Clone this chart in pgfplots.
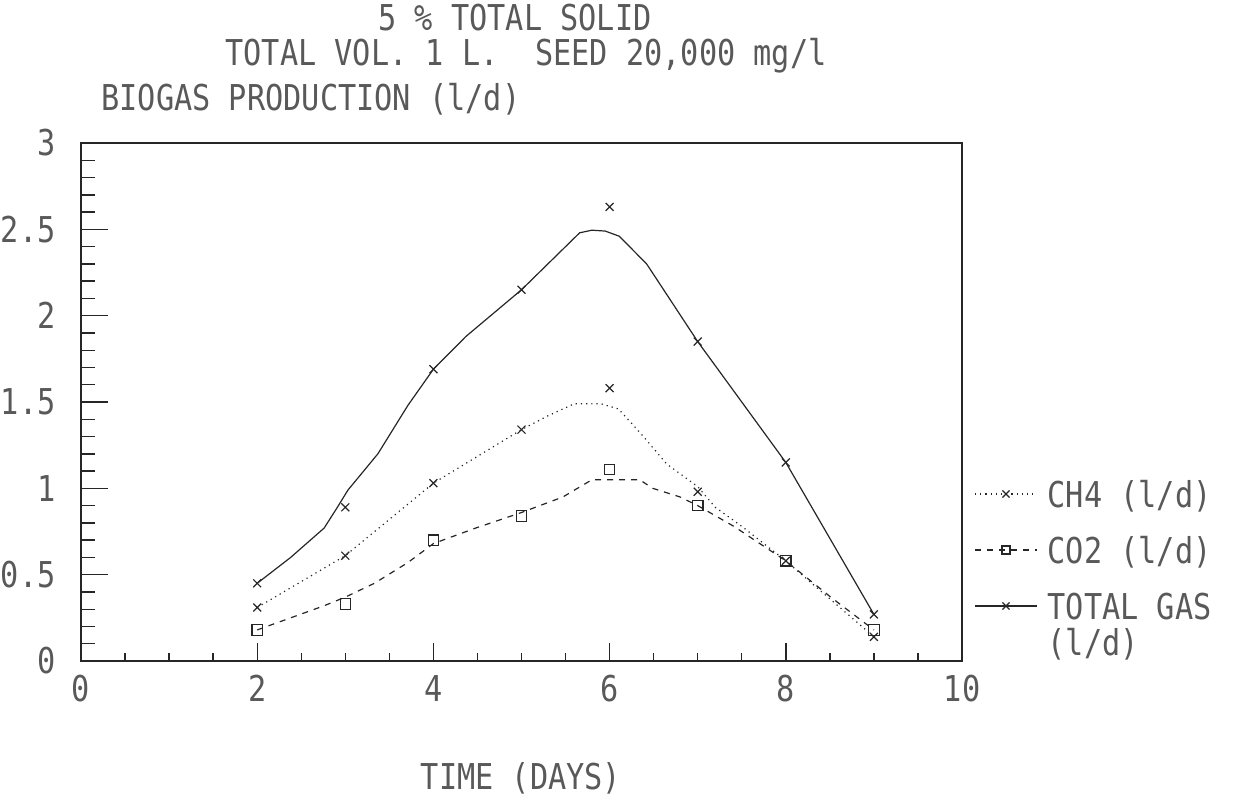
\documentclass[border=0pt]{standalone}
\usepackage{pgfplots}
\pgfplotsset{compat=1.18}
\usepackage{fontspec}
\newfontfamily\plotfont{DejaVu Sans Mono}[FakeStretch=0.85]
\newcommand\pf{\plotfont\fontsize{17.8}{20}\selectfont}
\definecolor{ink}{gray}{0.35}
\definecolor{pen}{gray}{0.15}

\pgfplotstableread{
x y
2 0.45
3 0.89
4 1.69
5 2.15
6 2.63
7 1.85
8 1.15
9 0.27
}\totalpts
\pgfplotstableread{
x y
2 0.31
3 0.61
4 1.03
5 1.34
6 1.58
7 0.98
8 0.58
9 0.14
}\chpts
\pgfplotstableread{
x y
2 0.18
3 0.33
4 0.70
5 0.84
6 1.11
7 0.90
8 0.58
9 0.18
}\copts

\begin{document}
\begin{tikzpicture}
\path[use as bounding box] (-40.5pt,-74.5pt) rectangle (578pt,330.5pt);
\begin{axis}[
  at={(0pt,0pt)}, anchor=south west,
  scale only axis, width=440.5pt, height=259pt,
  xmin=0, xmax=10, ymin=0, ymax=3,
  xtick={0,2,4,6,8,10}, xticklabels={0,2,4,6,8,10},
  minor x tick num=3,
  ytick={0,0.5,1,1.5,2,2.5,3}, yticklabels={0,0.5,1,1.5,2,2.5,3},
  minor y tick num=4,
  xtick pos=left, ytick pos=left,
  tick align=inside,
  xtick style={/pgfplots/major tick length=9pt,/pgfplots/minor tick length=4pt,line width=0.7pt,color=pen},
  ytick style={/pgfplots/major tick length=13.5pt,/pgfplots/minor tick length=7pt,line width=0.7pt,color=pen},
  axis line style={line width=1.3pt, color=pen},
  /pgf/number format/assume math mode=true,
  tick label style={font=\pf, text=ink},
  xticklabel style={anchor=north, inner sep=0pt, yshift=-7pt},
  yticklabel style={anchor=east, inner sep=0pt, xshift=-12.5pt},
  legend image code/.code={\draw[mark repeat=2,mark phase=2,#1] plot coordinates {(0pt,0pt) (15.5pt,0pt) (31pt,0pt)};},
  legend cell align=left,
  legend style={draw=none, fill=none, font=\pf, text=ink,
    at={(axis description cs:1.0068,0.2143)}, anchor=west,
    column sep=5pt, row sep=15pt,
    nodes={inner sep=0pt, text height=13pt, text depth=0pt}},
  clip=false,
]
% fitted curves
\addplot[pen, line width=0.6pt, forget plot] coordinates {
(2,0.45)(2.38,0.60)(2.76,0.77)(2.91,0.89)(3.03,0.99)(3.37,1.20)(3.71,1.48)(4,1.69)(4.37,1.88)(4.86,2.09)(5,2.15)(5.3,2.30)(5.66,2.48)(5.8,2.495)(5.95,2.49)(6.11,2.46)(6.42,2.30)(7,1.85)(8,1.15)(9,0.27)};
\addplot[pen, line width=0.6pt, dotted, forget plot] coordinates {
(2,0.31)(3,0.61)(4,1.03)(5,1.34)(5.3,1.42)(5.6,1.49)(5.9,1.49)(6.1,1.46)(6.35,1.32)(6.65,1.14)(7,1.01)(7.2,0.89)(7.5,0.78)(8,0.58)(8.5,0.36)(9,0.14)};
\addplot[pen, line width=0.6pt, dashed, forget plot] coordinates {
(2,0.18)(2.38,0.25)(2.76,0.32)(3,0.37)(3.33,0.45)(3.71,0.57)(4,0.68)(4.48,0.77)(5,0.86)(5.47,0.95)(5.8,1.05)(6.34,1.05)(6.49,1.00)(6.8,0.95)(7,0.90)(7.41,0.78)(8,0.58)(8.51,0.37)(9,0.18)};
% measured points
\addplot[only marks, mark=x, mark size=2.8pt, pen, line width=0.6pt, forget plot] table[x=x,y=y] {\totalpts};
\addplot[only marks, mark=x, mark size=2.8pt, pen, line width=0.6pt, forget plot] table[x=x,y=y] {\chpts};
\addplot[only marks, mark=square, mark size=2.6pt, pen, line width=0.6pt, forget plot] table[x=x,y=y] {\copts};
% legend
\addlegendimage{pen, line width=0.6pt, dotted, mark=x, mark size=2.5pt, mark options={solid}}
\addlegendentry{CH4 (l/d)}
\addlegendimage{pen, line width=0.6pt, dashed, mark=square, mark size=2pt, mark options={solid}}
\addlegendentry{CO2 (l/d)}
\addlegendimage{pen, line width=0.6pt, mark=x, mark size=2.5pt}
\addlegendentry{\vtop{\baselineskip=18pt\lineskiplimit=-20pt\hbox{TOTAL GAS}\hbox{(l/d)}}}
\end{axis}
\begin{scope}[every node/.style={font=\pf, text=ink, inner sep=0pt}]
\node at (217pt,321.5pt) {5 \% TOTAL SOLID};
\node at (222.5pt,302.5pt) {TOTAL VOL. 1 L.\ \ SEED 20,000 mg/l};
\node[anchor=west] at (10pt,281pt) {BIOGAS PRODUCTION (l/d)};
\node at (220pt,-58.5pt) {TIME (DAYS)};
\end{scope}
\end{tikzpicture}
\end{document}
